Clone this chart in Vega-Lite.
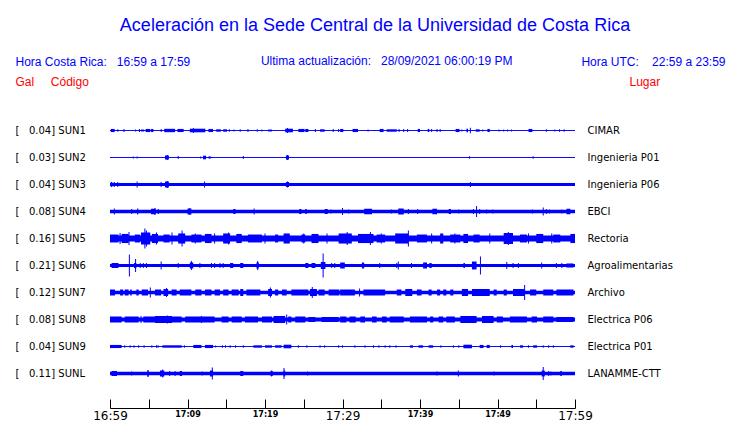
{
"$schema": "https://vega.github.io/schema/vega-lite/v6.json",
"width": 465, "height": 270,
"autosize": {"type": "none"},
"padding": {"left": 110, "top": 117, "right": 165, "bottom": 36},
"background": "white",
"config": {"view": {"stroke": null}, "axis": {"grid": false}},
"title": {
 "text": "Aceleración en la Sede Central de la Universidad de Costa Rica",
 "subtitle": "\u200b\u00a0\u00a0\u00a0\u00a0\u00a0\u00a0\u00a0Ultima actualización:\u00a0\u00a0\u00a028/09/2021 06:00:19 PM",
 "anchor": "middle", "frame": "group", "dx": 32.5, "offset": -12,
 "font": "Liberation Sans", "fontSize": 18, "fontWeight": "normal", "color": "#0000ff",
 "subtitleFont": "Liberation Sans", "subtitleFontSize": 12, "subtitleColor": "#0000ff", "subtitlePadding": 21
},
"datasets": {
"seg": [
{"s":"SUN1","t":0,"u":60,"a":0.04},{"s":"SUN1","t":0.1,"u":0.6,"a":0.13},{"s":"SUN1","t":4.0,"u":4.4,"a":0.08},{"s":"SUN1","t":4.6,"u":5.2,"a":0.13},{"s":"SUN1","t":5.3,"u":5.6,"a":0.13},{"s":"SUN1","t":7.0,"u":8.4,"a":0.14},{"s":"SUN1","t":8.7,"u":9.5,"a":0.13},{"s":"SUN1","t":10.3,"u":12.3,"a":0.15},{"s":"SUN1","t":12.7,"u":13.3,"a":0.13},{"s":"SUN1","t":13.7,"u":14.3,"a":0.1},{"s":"SUN1","t":14.6,"u":15.1,"a":0.1},{"s":"SUN1","t":20.4,"u":20.9,"a":0.08},{"s":"SUN1","t":22.6,"u":23.6,"a":0.15},{"s":"SUN1","t":24.3,"u":25.1,"a":0.13},{"s":"SUN1","t":25.2,"u":25.6,"a":0.13},{"s":"SUN1","t":27.1,"u":27.7,"a":0.1},{"s":"SUN1","t":29.7,"u":30.1,"a":0.13},{"s":"SUN1","t":31.3,"u":32.0,"a":0.13},{"s":"SUN1","t":34.8,"u":35.3,"a":0.13},{"s":"SUN1","t":35.7,"u":37.0,"a":0.1},{"s":"SUN1","t":39.7,"u":40.0,"a":0.13},{"s":"SUN1","t":41.0,"u":41.2,"a":0.13},{"s":"SUN1","t":44.6,"u":45.1,"a":0.13},{"s":"SUN1","t":46.0,"u":46.2,"a":0.15},{"s":"SUN1","t":47.2,"u":47.7,"a":0.1},{"s":"SUN1","t":48.7,"u":49.0,"a":0.13},{"s":"SUN1","t":54.0,"u":54.5,"a":0.13},
{"s":"SUN2","t":0,"u":60,"a":0.04},{"s":"SUN2","t":7.1,"u":7.6,"a":0.17},{"s":"SUN2","t":12.0,"u":12.4,"a":0.15},{"s":"SUN2","t":22.7,"u":23.1,"a":0.17},
{"s":"SUN3","t":0,"u":60,"a":0.13},{"s":"SUN3","t":0.1,"u":0.3,"a":0.21},{"s":"SUN3","t":7.1,"u":7.6,"a":0.25},{"s":"SUN3","t":22.7,"u":23.1,"a":0.21},
{"s":"SUN4","t":0,"u":60,"a":0.15},{"s":"SUN4","t":3.5,"u":3.65,"a":0.25},{"s":"SUN4","t":5.3,"u":5.9,"a":0.23},{"s":"SUN4","t":6.15,"u":6.3,"a":0.21},{"s":"SUN4","t":10.0,"u":10.5,"a":0.25},{"s":"SUN4","t":15.9,"u":16.2,"a":0.21},{"s":"SUN4","t":24.4,"u":24.7,"a":0.21},{"s":"SUN4","t":25.2,"u":25.4,"a":0.21},{"s":"SUN4","t":27.7,"u":28.1,"a":0.21},{"s":"SUN4","t":32.8,"u":33.8,"a":0.23},{"s":"SUN4","t":37.2,"u":37.9,"a":0.25},{"s":"SUN4","t":41.6,"u":42.2,"a":0.23},{"s":"SUN4","t":43.7,"u":44.0,"a":0.21},{"s":"SUN4","t":58.9,"u":59.4,"a":0.23},
{"s":"SUN5","t":0,"u":60,"a":0.25},{"s":"SUN5","t":0,"u":1.1,"a":0.33},{"s":"SUN5","t":1.5,"u":2.4,"a":0.38},{"s":"SUN5","t":3.2,"u":3.9,"a":0.33},{"s":"SUN5","t":4.0,"u":5.2,"a":0.5},{"s":"SUN5","t":5.4,"u":6.2,"a":0.38},{"s":"SUN5","t":6.9,"u":7.7,"a":0.33},{"s":"SUN5","t":8.8,"u":9.7,"a":0.42},{"s":"SUN5","t":10.5,"u":11.8,"a":0.33},{"s":"SUN5","t":12.25,"u":13.1,"a":0.38},{"s":"SUN5","t":14.6,"u":15.5,"a":0.42},{"s":"SUN5","t":16.3,"u":17.0,"a":0.38},{"s":"SUN5","t":17.8,"u":19.6,"a":0.33},{"s":"SUN5","t":21.3,"u":21.7,"a":0.33},{"s":"SUN5","t":22.4,"u":23.2,"a":0.42},{"s":"SUN5","t":24.7,"u":25.2,"a":0.33},{"s":"SUN5","t":26.0,"u":26.9,"a":0.38},{"s":"SUN5","t":29.5,"u":31.2,"a":0.42},{"s":"SUN5","t":32.0,"u":34.0,"a":0.38},{"s":"SUN5","t":34.4,"u":35.5,"a":0.33},{"s":"SUN5","t":36.8,"u":38.5,"a":0.42},{"s":"SUN5","t":39.6,"u":40.9,"a":0.33},{"s":"SUN5","t":42.6,"u":43.0,"a":0.42},{"s":"SUN5","t":43.9,"u":45.2,"a":0.33},{"s":"SUN5","t":45.6,"u":46.2,"a":0.38},{"s":"SUN5","t":46.9,"u":47.7,"a":0.33},{"s":"SUN5","t":50.8,"u":52.0,"a":0.46},{"s":"SUN5","t":52.9,"u":53.8,"a":0.33},{"s":"SUN5","t":55.0,"u":55.9,"a":0.38},{"s":"SUN5","t":57.2,"u":58.1,"a":0.33},{"s":"SUN5","t":59.4,"u":60,"a":0.38},
{"s":"SUN6","t":0,"u":60,"a":0.13},{"s":"SUN6","t":0.2,"u":1.1,"a":0.21},{"s":"SUN6","t":3.1,"u":3.4,"a":0.21},{"s":"SUN6","t":10.3,"u":10.75,"a":0.25},{"s":"SUN6","t":15.5,"u":15.9,"a":0.21},{"s":"SUN6","t":16.8,"u":17.2,"a":0.21},{"s":"SUN6","t":18.9,"u":19.2,"a":0.25},{"s":"SUN6","t":25.2,"u":25.6,"a":0.21},{"s":"SUN6","t":26.0,"u":26.5,"a":0.21},{"s":"SUN6","t":27.2,"u":27.8,"a":0.29},{"s":"SUN6","t":29.7,"u":30.3,"a":0.25},{"s":"SUN6","t":32.5,"u":32.8,"a":0.25},{"s":"SUN6","t":40.4,"u":40.9,"a":0.25},{"s":"SUN6","t":41.2,"u":41.5,"a":0.21},{"s":"SUN6","t":45.6,"u":45.8,"a":0.21},{"s":"SUN6","t":46.7,"u":47.3,"a":0.33},{"s":"SUN6","t":58.9,"u":59.8,"a":0.17},
{"s":"SUN7","t":0,"u":60,"a":0.15},{"s":"SUN7","t":0,"u":0.65,"a":0.25},{"s":"SUN7","t":1.3,"u":1.7,"a":0.25},{"s":"SUN7","t":1.9,"u":2.4,"a":0.25},{"s":"SUN7","t":2.6,"u":2.8,"a":0.25},{"s":"SUN7","t":3.4,"u":3.7,"a":0.25},{"s":"SUN7","t":4.1,"u":4.9,"a":0.25},{"s":"SUN7","t":5.8,"u":6.6,"a":0.25},{"s":"SUN7","t":6.9,"u":7.5,"a":0.29},{"s":"SUN7","t":7.95,"u":8.6,"a":0.25},{"s":"SUN7","t":9.0,"u":10.5,"a":0.25},{"s":"SUN7","t":11.0,"u":11.8,"a":0.25},{"s":"SUN7","t":12.25,"u":13.1,"a":0.25},{"s":"SUN7","t":13.5,"u":14.2,"a":0.25},{"s":"SUN7","t":14.6,"u":15.3,"a":0.25},{"s":"SUN7","t":15.7,"u":16.6,"a":0.25},{"s":"SUN7","t":16.8,"u":17.2,"a":0.29},{"s":"SUN7","t":17.6,"u":19.4,"a":0.25},{"s":"SUN7","t":20.4,"u":20.9,"a":0.29},{"s":"SUN7","t":21.3,"u":21.7,"a":0.25},{"s":"SUN7","t":22.2,"u":22.8,"a":0.25},{"s":"SUN7","t":23.4,"u":25.6,"a":0.25},{"s":"SUN7","t":25.8,"u":26.7,"a":0.29},{"s":"SUN7","t":26.9,"u":27.7,"a":0.25},{"s":"SUN7","t":28.2,"u":29.6,"a":0.25},{"s":"SUN7","t":29.7,"u":31.6,"a":0.25},{"s":"SUN7","t":32.7,"u":35.5,"a":0.25},{"s":"SUN7","t":37.0,"u":37.6,"a":0.25},{"s":"SUN7","t":38.1,"u":39.0,"a":0.29},{"s":"SUN7","t":39.6,"u":40.2,"a":0.25},{"s":"SUN7","t":41.1,"u":41.5,"a":0.25},{"s":"SUN7","t":42.2,"u":42.6,"a":0.25},{"s":"SUN7","t":43.0,"u":43.4,"a":0.25},{"s":"SUN7","t":43.9,"u":44.3,"a":0.25},{"s":"SUN7","t":45.4,"u":46.2,"a":0.29},{"s":"SUN7","t":46.7,"u":49.0,"a":0.29},{"s":"SUN7","t":49.5,"u":49.9,"a":0.25},{"s":"SUN7","t":50.8,"u":51.2,"a":0.25},{"s":"SUN7","t":52.0,"u":53.5,"a":0.29},{"s":"SUN7","t":54.2,"u":55.0,"a":0.25},{"s":"SUN7","t":55.9,"u":57.2,"a":0.25},{"s":"SUN7","t":57.6,"u":59.8,"a":0.25},
{"s":"SUN8","t":0,"u":60,"a":0.17},{"s":"SUN8","t":0,"u":1.5,"a":0.25},{"s":"SUN8","t":1.9,"u":3.7,"a":0.25},{"s":"SUN8","t":4.3,"u":5.8,"a":0.25},{"s":"SUN8","t":5.8,"u":8.0,"a":0.29},{"s":"SUN8","t":8.0,"u":9.25,"a":0.25},{"s":"SUN8","t":9.7,"u":13.5,"a":0.25},{"s":"SUN8","t":14.4,"u":15.3,"a":0.25},{"s":"SUN8","t":15.7,"u":17.0,"a":0.25},{"s":"SUN8","t":17.4,"u":19.1,"a":0.25},{"s":"SUN8","t":19.6,"u":20.9,"a":0.25},{"s":"SUN8","t":21.1,"u":22.6,"a":0.29},{"s":"SUN8","t":23.0,"u":23.4,"a":0.25},{"s":"SUN8","t":23.9,"u":25.2,"a":0.25},{"s":"SUN8","t":25.6,"u":26.5,"a":0.21},{"s":"SUN8","t":27.3,"u":29.5,"a":0.21},{"s":"SUN8","t":29.7,"u":30.5,"a":0.25},{"s":"SUN8","t":30.9,"u":31.7,"a":0.25},{"s":"SUN8","t":32.3,"u":32.9,"a":0.25},{"s":"SUN8","t":33.8,"u":34.4,"a":0.25},{"s":"SUN8","t":35.1,"u":35.7,"a":0.25},{"s":"SUN8","t":36.1,"u":37.9,"a":0.25},{"s":"SUN8","t":38.7,"u":40.9,"a":0.25},{"s":"SUN8","t":41.3,"u":41.7,"a":0.25},{"s":"SUN8","t":42.4,"u":43.0,"a":0.25},{"s":"SUN8","t":43.4,"u":44.5,"a":0.25},{"s":"SUN8","t":45.2,"u":47.3,"a":0.29},{"s":"SUN8","t":48.0,"u":49.5,"a":0.29},{"s":"SUN8","t":49.9,"u":50.7,"a":0.25},{"s":"SUN8","t":51.6,"u":53.8,"a":0.25},{"s":"SUN8","t":54.4,"u":55.1,"a":0.25},{"s":"SUN8","t":55.9,"u":57.2,"a":0.25},{"s":"SUN8","t":57.6,"u":59.8,"a":0.21},
{"s":"SUN9","t":0,"u":60,"a":0.04},{"s":"SUN9","t":0,"u":1.5,"a":0.13},{"s":"SUN9","t":6.75,"u":9.25,"a":0.1},{"s":"SUN9","t":10.75,"u":11.8,"a":0.13},{"s":"SUN9","t":12.25,"u":13.3,"a":0.13},{"s":"SUN9","t":18.5,"u":19.6,"a":0.1},{"s":"SUN9","t":20.0,"u":20.9,"a":0.1},{"s":"SUN9","t":21.3,"u":22.15,"a":0.1},{"s":"SUN9","t":22.4,"u":23.4,"a":0.15},{"s":"SUN9","t":38.7,"u":39.1,"a":0.1},{"s":"SUN9","t":39.8,"u":40.4,"a":0.1},{"s":"SUN9","t":41.1,"u":41.7,"a":0.1},{"s":"SUN9","t":45.6,"u":46.7,"a":0.15},{"s":"SUN9","t":47.7,"u":48.2,"a":0.13},{"s":"SUN9","t":48.6,"u":49.0,"a":0.13},{"s":"SUN9","t":51.8,"u":52.0,"a":0.13},{"s":"SUN9","t":52.9,"u":53.3,"a":0.1},{"s":"SUN9","t":54.6,"u":55.1,"a":0.1},{"s":"SUN9","t":59.4,"u":59.8,"a":0.1},
{"s":"SUNL","t":0,"u":60,"a":0.14},{"s":"SUNL","t":0.2,"u":0.9,"a":0.21},{"s":"SUNL","t":4.85,"u":5.0,"a":0.25},{"s":"SUNL","t":6.45,"u":7.0,"a":0.25},{"s":"SUNL","t":9.0,"u":9.3,"a":0.21},{"s":"SUNL","t":12.9,"u":13.3,"a":0.25},{"s":"SUNL","t":16.8,"u":17.2,"a":0.21},{"s":"SUNL","t":20.7,"u":21.0,"a":0.21},{"s":"SUNL","t":22.4,"u":22.6,"a":0.25},{"s":"SUNL","t":55.7,"u":56.1,"a":0.25},{"s":"SUNL","t":58.1,"u":58.3,"a":0.21}
],
"spk": [
{"s":"SUN1","t":1.0,"a":0.1},{"s":"SUN1","t":1.8,"a":0.13},{"s":"SUN1","t":3.3,"a":0.08},{"s":"SUN1","t":3.8,"a":0.13},{"s":"SUN1","t":6.6,"a":0.13},{"s":"SUN1","t":10.75,"a":0.21},{"s":"SUN1","t":15.4,"a":0.1},{"s":"SUN1","t":16.0,"a":0.08},{"s":"SUN1","t":16.8,"a":0.1},{"s":"SUN1","t":17.8,"a":0.13},{"s":"SUN1","t":19.0,"a":0.1},{"s":"SUN1","t":19.6,"a":0.08},{"s":"SUN1","t":22.9,"a":0.21},{"s":"SUN1","t":26.5,"a":0.13},{"s":"SUN1","t":28.8,"a":0.13},{"s":"SUN1","t":29.5,"a":0.13},{"s":"SUN1","t":33.3,"a":0.08},{"s":"SUN1","t":37.3,"a":0.13},{"s":"SUN1","t":37.9,"a":0.13},{"s":"SUN1","t":38.4,"a":0.13},{"s":"SUN1","t":41.5,"a":0.13},{"s":"SUN1","t":42.2,"a":0.13},{"s":"SUN1","t":42.6,"a":0.13},{"s":"SUN1","t":45.4,"a":0.08},{"s":"SUN1","t":46.5,"a":0.23},{"s":"SUN1","t":48.1,"a":0.08},{"s":"SUN1","t":50.2,"a":0.08},{"s":"SUN1","t":50.8,"a":0.08},{"s":"SUN1","t":51.3,"a":0.08},{"s":"SUN1","t":51.8,"a":0.08},{"s":"SUN1","t":56.3,"a":0.1},{"s":"SUN1","t":57.4,"a":0.08},{"s":"SUN1","t":58.0,"a":0.1},{"s":"SUN1","t":58.6,"a":0.1},
{"s":"SUN2","t":3.0,"a":0.08},{"s":"SUN2","t":3.5,"a":0.08},{"s":"SUN2","t":7.4,"a":0.21},{"s":"SUN2","t":8.8,"a":0.13},{"s":"SUN2","t":11.7,"a":0.08},{"s":"SUN2","t":12.8,"a":0.13},{"s":"SUN2","t":13.0,"a":0.08},{"s":"SUN2","t":17.2,"a":0.13},{"s":"SUN2","t":22.9,"a":0.21},{"s":"SUN2","t":46.4,"a":0.1},{"s":"SUN2","t":54.6,"a":0.1},
{"s":"SUN3","t":0.55,"a":0.21},{"s":"SUN3","t":1.0,"a":0.21},{"s":"SUN3","t":3.5,"a":0.25},{"s":"SUN3","t":6.6,"a":0.21},{"s":"SUN3","t":7.4,"a":0.29},{"s":"SUN3","t":12.2,"a":0.25},{"s":"SUN3","t":22.9,"a":0.25},{"s":"SUN3","t":46.5,"a":0.21},
{"s":"SUN4","t":0.56,"a":0.25},{"s":"SUN4","t":2.8,"a":0.21},{"s":"SUN4","t":5.8,"a":0.29},{"s":"SUN4","t":10.3,"a":0.29},{"s":"SUN4","t":18.6,"a":0.25},{"s":"SUN4","t":28.5,"a":0.17},{"s":"SUN4","t":30.0,"a":0.29},{"s":"SUN4","t":30.8,"a":0.17},{"s":"SUN4","t":36.3,"a":0.17},{"s":"SUN4","t":38.5,"a":0.21},{"s":"SUN4","t":39.7,"a":0.21},{"s":"SUN4","t":45.0,"a":0.17},{"s":"SUN4","t":46.9,"a":0.21},{"s":"SUN4","t":47.3,"a":0.46},{"s":"SUN4","t":47.7,"a":0.21},{"s":"SUN4","t":48.6,"a":0.17},{"s":"SUN4","t":49.4,"a":0.17},{"s":"SUN4","t":54.5,"a":0.17},{"s":"SUN4","t":55.9,"a":0.33},{"s":"SUN4","t":56.3,"a":0.21},{"s":"SUN4","t":56.7,"a":0.17},{"s":"SUN4","t":58.3,"a":0.17},
{"s":"SUN5","t":1.3,"a":0.46},{"s":"SUN5","t":2.45,"a":0.54},{"s":"SUN5","t":4.5,"a":0.83},{"s":"SUN5","t":4.7,"a":0.67},{"s":"SUN5","t":6.0,"a":0.5},{"s":"SUN5","t":8.0,"a":0.5},{"s":"SUN5","t":9.3,"a":0.67},{"s":"SUN5","t":11.0,"a":0.42},{"s":"SUN5","t":13.5,"a":0.42},{"s":"SUN5","t":15.3,"a":0.5},{"s":"SUN5","t":20.0,"a":0.42},{"s":"SUN5","t":25.0,"a":0.42},{"s":"SUN5","t":28.0,"a":0.42},{"s":"SUN5","t":30.6,"a":0.54},{"s":"SUN5","t":33.6,"a":0.54},{"s":"SUN5","t":35.0,"a":0.42},{"s":"SUN5","t":38.5,"a":0.67},{"s":"SUN5","t":41.5,"a":0.42},{"s":"SUN5","t":44.5,"a":0.42},{"s":"SUN5","t":49.0,"a":0.42},{"s":"SUN5","t":51.4,"a":0.54},{"s":"SUN5","t":54.0,"a":0.42},{"s":"SUN5","t":57.0,"a":0.42},
{"s":"SUN6","t":2.5,"a":0.92},{"s":"SUN6","t":3.3,"a":0.54},{"s":"SUN6","t":3.9,"a":0.21},{"s":"SUN6","t":4.3,"a":0.21},{"s":"SUN6","t":4.7,"a":0.21},{"s":"SUN6","t":6.6,"a":0.33},{"s":"SUN6","t":8.8,"a":0.21},{"s":"SUN6","t":10.5,"a":0.38},{"s":"SUN6","t":11.6,"a":0.21},{"s":"SUN6","t":13.1,"a":0.21},{"s":"SUN6","t":13.5,"a":0.21},{"s":"SUN6","t":14.2,"a":0.21},{"s":"SUN6","t":14.6,"a":0.21},{"s":"SUN6","t":19.05,"a":0.38},{"s":"SUN6","t":27.5,"a":1.0},{"s":"SUN6","t":28.6,"a":0.21},{"s":"SUN6","t":29.0,"a":0.21},{"s":"SUN6","t":29.9,"a":0.21},{"s":"SUN6","t":34.8,"a":0.21},{"s":"SUN6","t":37.0,"a":0.21},{"s":"SUN6","t":37.2,"a":0.33},{"s":"SUN6","t":38.9,"a":0.21},{"s":"SUN6","t":47.8,"a":0.75},{"s":"SUN6","t":51.2,"a":0.29},{"s":"SUN6","t":52.0,"a":0.21},{"s":"SUN6","t":52.7,"a":0.21},{"s":"SUN6","t":55.7,"a":0.25},{"s":"SUN6","t":57.6,"a":0.21},{"s":"SUN6","t":58.3,"a":0.21},
{"s":"SUN7","t":5.2,"a":0.42},{"s":"SUN7","t":7.3,"a":0.38},{"s":"SUN7","t":20.7,"a":0.42},{"s":"SUN7","t":26.1,"a":0.46},{"s":"SUN7","t":32.2,"a":0.33},{"s":"SUN7","t":53.5,"a":0.63},
{"s":"SUN8","t":4.0,"a":0.29},{"s":"SUN8","t":7.4,"a":0.33},{"s":"SUN8","t":11.8,"a":0.29},{"s":"SUN8","t":22.8,"a":0.42},
{"s":"SUN9","t":1.9,"a":0.1},{"s":"SUN9","t":2.6,"a":0.1},{"s":"SUN9","t":3.1,"a":0.1},{"s":"SUN9","t":3.7,"a":0.1},{"s":"SUN9","t":4.4,"a":0.1},{"s":"SUN9","t":5.4,"a":0.1},{"s":"SUN9","t":6.0,"a":0.1},{"s":"SUN9","t":6.2,"a":0.1},{"s":"SUN9","t":9.6,"a":0.1},{"s":"SUN9","t":13.6,"a":0.08},{"s":"SUN9","t":14.5,"a":0.1},{"s":"SUN9","t":14.9,"a":0.1},{"s":"SUN9","t":15.5,"a":0.1},{"s":"SUN9","t":16.2,"a":0.1},{"s":"SUN9","t":17.2,"a":0.1},{"s":"SUN9","t":24.3,"a":0.1},{"s":"SUN9","t":25.4,"a":0.1},{"s":"SUN9","t":27.1,"a":0.1},{"s":"SUN9","t":27.7,"a":0.1},{"s":"SUN9","t":29.5,"a":0.1},{"s":"SUN9","t":30.0,"a":0.1},{"s":"SUN9","t":31.6,"a":0.1},{"s":"SUN9","t":32.9,"a":0.1},{"s":"SUN9","t":34.0,"a":0.1},{"s":"SUN9","t":34.7,"a":0.1},{"s":"SUN9","t":35.5,"a":0.1},{"s":"SUN9","t":36.1,"a":0.1},{"s":"SUN9","t":36.9,"a":0.1},{"s":"SUN9","t":42.7,"a":0.1},{"s":"SUN9","t":44.3,"a":0.1},{"s":"SUN9","t":45.0,"a":0.1},{"s":"SUN9","t":50.4,"a":0.1},{"s":"SUN9","t":54.0,"a":0.1},{"s":"SUN9","t":55.9,"a":0.1},{"s":"SUN9","t":56.6,"a":0.1},{"s":"SUN9","t":57.2,"a":0.1},
{"s":"SUNL","t":2.8,"a":0.17},{"s":"SUNL","t":4.9,"a":0.29},{"s":"SUNL","t":6.8,"a":0.33},{"s":"SUNL","t":7.7,"a":0.21},{"s":"SUNL","t":8.4,"a":0.21},{"s":"SUNL","t":11.9,"a":0.17},{"s":"SUNL","t":13.2,"a":0.5},{"s":"SUNL","t":20.85,"a":0.25},{"s":"SUNL","t":22.45,"a":0.46},{"s":"SUNL","t":25.5,"a":0.17},{"s":"SUNL","t":42.2,"a":0.17},{"s":"SUNL","t":44.95,"a":0.25},{"s":"SUNL","t":49.55,"a":0.17},{"s":"SUNL","t":55.9,"a":0.54},{"s":"SUNL","t":56.6,"a":0.21},{"s":"SUNL","t":56.9,"a":0.17}
]
},
"layer": [
{
 "data": {"name": "seg"},
 "mark": {"type": "rule", "color": "#0000ff", "strokeCap": "butt"},
 "encoding": {
  "x": {"field": "t", "type": "quantitative",
   "scale": {"domain": [0, 60], "nice": false, "zero": false},
   "axis": {"orient": "bottom", "offset": 21, "values": [0,5,10,15,20,25,30,35,40,45,50,55,60],
    "tickSize": -9, "tickColor": "black", "tickWidth": 1, "domainColor": "black", "domainWidth": 1,
    "labelExpr": "datum.value % 10 == 0 ? (16 + floor((59 + datum.value) / 60)) + ':' + ((59 + datum.value) % 60 < 10 ? '0' : '') + ((59 + datum.value) % 60) : ''",
    "labelFont": "DejaVu Sans", "labelColor": "black", "labelAngle": 0, "labelAlign": "center", "labelBaseline": "top",
    "labelFontSize": {"condition": {"test": "datum.value % 30 == 0", "value": 12}, "value": 8},
    "labelFontWeight": {"condition": {"test": "datum.value % 30 == 0", "value": "normal"}, "value": "bold"},
    "labelPadding": 11, "labelFlush": false, "labelOverlap": false,
    "title": "Hora Costa Rica:\u00a0\u00a0\u00a016:59 a 17:59", "titleColor": "#0000ff", "titleFont": "Liberation Sans",
    "titleFontSize": 12, "titleFontWeight": "normal", "titleAlign": "left", "titleBaseline": "alphabetic", "titleAngle": 0,
    "titleX": -95, "titleY": -343}
  },
  "x2": {"field": "u"},
  "y": {"field": "s", "type": "nominal",
   "scale": {"type": "point", "domain": ["SUN1","SUN2","SUN3","SUN4","SUN5","SUN6","SUN7","SUN8","SUN9","SUNL"], "padding": 0.5},
   "axis": {"orient": "left", "domain": false, "ticks": false, "tickSize": 0, "labelAlign": "left", "labelBaseline": "middle",
    "labelPadding": 95, "labelFont": "DejaVu Sans", "labelFontSize": 10, "labelColor": "black",
    "labelExpr": "'[\u00a0\u00a0\u00a0' + ({SUN1:'0.04',SUN2:'0.03',SUN3:'0.04',SUN4:'0.08',SUN5:'0.16',SUN6:'0.21',SUN7:'0.12',SUN8:'0.08',SUN9:'0.04',SUNL:'0.11'})[datum.value] + ']\u00a0' + datum.value",
    "title": "Gal\u00a0\u00a0\u00a0\u00a0\u00a0Código", "titleColor": "#ff0000", "titleFont": "Liberation Sans", "titleFontSize": 12,
    "titleFontWeight": "normal", "titleAngle": 0, "titleAlign": "left", "titleBaseline": "alphabetic", "titleX": -95, "titleY": -32}
  },
  "strokeWidth": {"field": "a", "type": "quantitative", "scale": {"domain": [0, 1], "range": [0, 24]}, "legend": null}
 }
},
{
 "data": {"name": "spk"},
 "mark": {"type": "tick", "color": "#0000ff", "thickness": 1, "opacity": 1},
 "encoding": {
  "x": {"field": "t", "type": "quantitative",
   "axis": {"orient": "top", "domain": false, "ticks": false, "labels": false,
    "title": "Hora UTC:\u00a0\u00a0\u00a0\u00a022:59 a 23:59", "titleColor": "#0000ff", "titleFont": "Liberation Sans", "titleFontSize": 12,
    "titleFontWeight": "normal", "titleAngle": 0, "titleAlign": "right", "titleBaseline": "alphabetic", "titleX": 615, "titleY": -52}
  },
  "y": {"field": "s", "type": "nominal",
   "axis": {"orient": "right", "domain": false, "ticks": false, "tickSize": 0, "labelAlign": "left", "labelBaseline": "middle",
    "labelPadding": 12, "labelFont": "DejaVu Sans", "labelFontSize": 10, "labelColor": "black",
    "labelExpr": "({SUN1:'CIMAR',SUN2:'Ingenieria P01',SUN3:'Ingenieria P06',SUN4:'EBCI',SUN5:'Rectoria',SUN6:'Agroalimentarias',SUN7:'Archivo',SUN8:'Electrica P06',SUN9:'Electrica P01',SUNL:'LANAMME-CTT'})[datum.value]",
    "title": "Lugar", "titleColor": "#ff0000", "titleFont": "Liberation Sans", "titleFontSize": 12,
    "titleFontWeight": "normal", "titleAngle": 0, "titleAlign": "left", "titleBaseline": "alphabetic", "titleX": 54, "titleY": -32}
  },
  "size": {"field": "a", "type": "quantitative", "scale": {"domain": [0, 1], "range": [0, 24]}, "legend": null}
 }
}
]
}
